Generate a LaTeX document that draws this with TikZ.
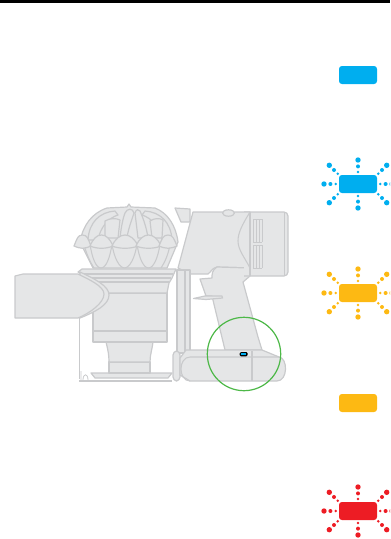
\documentclass[tikz,border=0pt]{standalone}
\usepackage{tikz}
\usetikzlibrary{positioning,calc}
\definecolor{bodygrey}{HTML}{E5E6E7}
\definecolor{edgegrey}{HTML}{C9CACC}
\definecolor{ledblue}{HTML}{00AEEF}
\definecolor{ledamber}{HTML}{FDB913}
\definecolor{ledred}{HTML}{ED1C24}
\definecolor{ringgreen}{HTML}{4DB848}
\tikzset{
  part/.style={draw=edgegrey, fill=bodygrey, line width=0.9pt, line join=round},
  partline/.style={draw=edgegrey, line width=0.8pt},
  led/.style={rounded corners=2.2pt, minimum width=28.5pt, minimum height=13.5pt, inner sep=0pt},
  pics/burst/.style={code={
    \foreach \dx/\dy/\rad in {0/-24/2.7, 0/-17.6/2.0, 0/-12/1.4, 0/24/2.7, 0/17.6/2.0, 0/12/1.4,
        -34/0/2.7, -27.6/0/2.0, -22.3/0/1.4, 34/0/2.7, 27.6/0/2.0, 22.3/0/1.4,
        -28.7/-18.7/2.7, -24/-14/2.0, -20.3/-10.3/1.4, 28.7/-18.7/2.7, 24/-14/2.0, 20.3/-10.3/1.4,
        -28.7/18.7/2.7, -24/14/2.0, -20.3/10.3/1.4, 28.7/18.7/2.7, 24/14/2.0, 20.3/10.3/1.4}
      \fill[#1] (\dx,\dy) circle[radius=\rad];
  }}
}
\begin{document}
\begin{tikzpicture}[x=0.75pt,y=-0.75pt]
  \useasboundingbox (0,0) rectangle (390,539);
  \begin{scope}
  \clip (0,0) rectangle (390,539);
  \fill[black] (0,0) rectangle (390,3);

  % stem and base
  \draw[partline, line width=0.6pt] (79,318) -- (79,379);
  \draw[partline, line width=0.6pt] (81,380) -- (81,371) (83,380) .. controls (83,373) and (88,373) .. (88,380);
  \draw[part] (91,373) -- (172,373) -- (168,378) -- (95,378) -- cycle;
  \fill[edgegrey] (79,379.5) rectangle (172,382);
  \draw[part] (109,362) -- (109,373) -- (150,373) -- (150,362) -- cycle;
  \draw[part] (106,342) .. controls (108,350) and (109,355) .. (109,362) -- (150,362) .. controls (150,355) and (152,350) .. (153,342) -- cycle;
  \draw[part] (93,286) -- (93,342) -- (167,342) -- (167,286) -- cycle;
  \draw[partline] (93,331) -- (167,331) (93,293) -- (167,293);

  % cyclone
  \draw[part] (80,242) .. controls (83,225) and (92,213) .. (107,208) -- (127,207) -- (129,204) -- (131,207) -- (155,208)
     .. controls (168,213) and (176,226) .. (178,242) -- (167,268) -- (93,268) -- cycle;
  \draw[part] (88,240) .. controls (89,222) and (100,212) .. (115,211) -- (118,215) .. controls (108,218) and (100,228) .. (98,240) -- cycle;
  \draw[part] (172,240) .. controls (171,222) and (160,212) .. (145,211) -- (142,215) .. controls (152,218) and (160,228) .. (162,240) -- cycle;
  \draw[part] (105,238) -- (105,221) .. controls (110,218) and (116,218) .. (120,220) -- (118,238) -- cycle;
  \draw[part] (152,238) -- (150,221) .. controls (154,218) and (160,218) .. (163,220) -- (162,238) -- cycle;
  \draw[part] (138,238) -- (135,213) .. controls (136,209) and (139,209) .. (140,211) .. controls (144,220) and (147,230) .. (148,238) -- cycle;
  \draw[part] (120,238) .. controls (121,228) and (123,218) .. (125,213) .. controls (127,208) and (133,208) .. (134,213)
     .. controls (131,222) and (128,230) .. (127,238) -- cycle;
  \foreach \lx/\rx in {90/112, 112/137, 137/160} {
    \draw[partline] (\lx,244) .. controls ($(\lx,244)+(2,14)$) and ($(\lx,244)!0.5!(\rx,244)+(-5,24)$) .. ($(\lx,244)!0.5!(\rx,244)+(0,24)$)
      .. controls ($(\lx,244)!0.5!(\rx,244)+(5,24)$) and ($(\rx,244)+(-2,14)$) .. (\rx,244);
  }
  \draw[partline] (84,245) .. controls (87,255) and (90,262) .. (94,268) (170,245) .. controls (168,255) and (165,262) .. (161,268);
  \foreach \lx/\rx in {74/91, 90/113, 112/138, 136/161, 159/177} {
    \draw[part] (\lx,246) .. controls ($(\lx,243)+(3,-4)$) and ($(\lx,243)!0.5!(\rx,243)+(-5,-8)$) .. ($(\lx,243)!0.5!(\rx,243)+(0,-8)$)
      .. controls ($(\lx,243)!0.5!(\rx,243)+(5,-8)$) and ($(\rx,243)+(-3,-4)$) .. (\rx,246)
      .. controls ($(\rx,246)+(-7,3)$) and ($(\lx,246)+(7,3)$) .. (\lx,246) -- cycle;
  }

  % rim under the cyclone
  \draw[part] (78,272) -- (82,269) -- (176,269) -- (172,278) -- (169,283) -- (167,293) -- (93,293) -- (92,284) -- (88,278) -- cycle;
  \draw[partline] (80,274) -- (173,274) (84,278) -- (171,278) (90,282) -- (169,282);

  % nozzle
  \draw[part] (80,272) .. controls (95,279) and (109,286) .. (109,295) .. controls (109,305) and (95,312) .. (80,318) -- cycle;
  \draw[part] (15,276) -- (23,274) -- (78,274) .. controls (88,279) and (104,286) .. (104,294)
     .. controls (104,303) and (90,313) .. (78,318) -- (15,318) -- cycle;

  % handle and motor
  \draw[part] (175,208) -- (190,209) -- (190,222) -- (181,222) -- cycle;
  \draw[part] (193,212) -- (250,212) -- (250,268) -- (217,267) .. controls (212,268) and (211,272) .. (208,274) -- (190,274) -- (178,268) -- cycle;
  \draw[part] (212,278) -- (200,279) -- (206,296) -- (212,296) -- (225,350) -- (262,350) -- (258,337) -- (243,282) -- (250,276) -- (250,268) -- (217,267) .. controls (212,270) and (212,274) .. (212,278) -- cycle;
  \draw[part] (193.5,298.5) -- (205,296) -- (222,296) -- (222.5,298) -- (206,299.5) -- cycle;
  \draw[part] (228.5,213) ellipse[x radius=6, y radius=3.2];
  \draw[part, rounded corners=3pt] (244,212) -- (288,212) -- (288,276) -- (244,276);
  \fill[bodygrey] (242,213) rectangle (250,267);
  \draw[partline] (250,212) .. controls (242,225) and (238,233) .. (238,241) .. controls (238,250) and (245,258) .. (250,268);
  \draw[partline] (250,212) -- (250,276);
  \draw[partline] (284.5,212) -- (284.5,276);
  \foreach \vx in {253,256,259,262} {
    \draw[partline, line width=0.5pt] (\vx,219) -- (\vx,242) (\vx,245) -- (\vx,268);
  }
  \draw[partline, line width=0.5pt] (253,219) -- (262,219) (253,242) -- (262,242) (253,245) -- (262,245) (253,268) -- (262,268);

  % upright between base and handle
  \draw[part] (177,270) -- (190,270) -- (190,353) -- (177,353) -- cycle;
  \draw[partline] (185,270) -- (185,353);

  % battery
  \draw[part, rounded corners=3pt] (173,351) -- (180,351) -- (180,381) -- (173,381) -- cycle;
  \draw[part] (186,350) -- (262,350) -- (279,357) .. controls (288,358) and (288,381) .. (277,381) -- (190,381) -- (180,375) -- (180,358) -- cycle;
  \draw[partline] (190,381) .. controls (178,381) and (178,357) .. (190,357) -- (279,357);
  \draw[partline] (252,351) -- (252,381);

  % ring and indicator
  \draw[ringgreen, line width=0.9pt] (244,354) circle[radius=36.7];
  \node[fill=black, rounded corners=1pt, minimum width=6pt, minimum height=3.2pt, inner sep=0pt] (socket) at (243.7,354.2) {};
  \node[fill=ledblue, minimum width=3.4pt, minimum height=1.2pt, inner sep=0pt] (socketled) at (socket) {};

  % status lights
  \node[led, fill=ledblue] (steady) at (358,75) {};
  \pic at (358,184) {burst=ledblue};
  \node[led, fill=ledblue] (flashblue) at (358,184) {};
  \pic at (358,293) {burst=ledamber};
  \node[led, fill=ledamber] (flashamber) at (358,293) {};
  \node[led, fill=ledamber] (steadyamber) at (358,403) {};
  \pic at (358,511) {burst=ledred};
  \node[led, fill=ledred] (flashred) at (358,511) {};
  \end{scope}
\end{tikzpicture}
\end{document}
